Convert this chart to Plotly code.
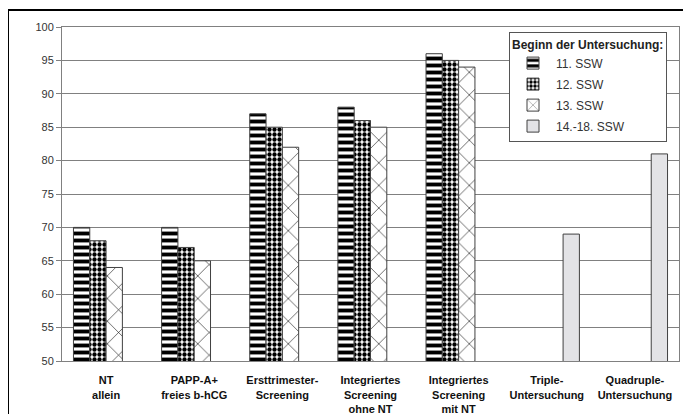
import plotly.graph_objects as go

categories = [
    "NT<br>allein",
    "PAPP-A+<br>freies b-hCG",
    "Ersttrimester-<br>Screening",
    "Integriertes<br>Screening<br>ohne NT",
    "Integriertes<br>Screening<br>mit NT",
    "Triple-<br>Untersuchung",
    "Quadruple-<br>Untersuchung",
]
series_names = ["11. SSW", "12. SSW", "13. SSW", "14.-18. SSW"]
ssw11 = [70, 70, 87, 88, 96, None, None]
ssw12 = [68, 67, 85, 86, 95, None, None]
ssw13 = [64, 65, 82, 85, 94, None, None]
ssw14_18 = [None, None, None, None, None, 69, 81]
y_ticks = [50, 55, 60, 65, 70, 75, 80, 85, 90, 95, 100]

styles = [
    dict(color="white", pattern=dict(shape="-", fgcolor="black", bgcolor="white", size=7, solidity=0.55, fillmode="replace")),
    dict(color="white", pattern=dict(shape=".", fgcolor="black", bgcolor="white", size=5, solidity=0.6, fillmode="replace")),
    dict(color="white", pattern=dict(shape="x", fgcolor="black", bgcolor="white", size=16, solidity=0.07, fillmode="replace")),
    dict(color="#e3e3e6"),
]
values = [ssw11, ssw12, ssw13, ssw14_18]

fig = go.Figure()
for i, (name, vals, st) in enumerate(zip(series_names, values, styles)):
    fig.add_trace(go.Bar(
        x=categories, y=vals, name=name, legendgroup=name,
        marker=dict(**st, line=dict(color="#404040", width=1)),
    ))

L, T, W, H = 54, 19, 617, 334
fig.update_layout(
    width=691, height=414,
    margin=dict(l=L, r=691 - L - W, t=T, b=414 - T - H),
    paper_bgcolor="white", plot_bgcolor="white",
    barmode="group", bargap=0.26, bargroupgap=0,
    font=dict(family="Liberation Sans, Arial, sans-serif", size=11, color="#333"),
    showlegend=True,
    legend=dict(
        x=(501 - L) / W, xanchor="left", y=(T + H - 24) / H, yanchor="top",
        bgcolor="white", bordercolor="#555", borderwidth=1,
        title=dict(text="<b>Beginn der Untersuchung:</b>", font=dict(size=12, color="#222")),
        font=dict(size=12, color="#333"),
        traceorder="grouped", tracegroupgap=2, itemwidth=36,
        entrywidth=114, entrywidthmode="pixels",
    ),
    xaxis=dict(
        automargin=False,
        showline=True, linecolor="#808080", mirror=True,
        tickfont=dict(size=11, color="#111", family="Liberation Sans, Arial, sans-serif", weight="bold"),
        ticks="", ticklabelstandoff=9,
    ),
    yaxis=dict(
        automargin=False,
        range=[50, 100], tickvals=y_ticks, showgrid=True, gridcolor="#808080", gridwidth=1,
        showline=True, linecolor="#808080", mirror=True,
        ticks="outside", ticklen=5, tickcolor="#808080",
        tickfont=dict(size=11, color="#333"),
    ),
    shapes=[
        dict(type="line", xref="paper", yref="paper",
             x0=(0 - L) / W, x1=(0 - L) / W,
             y0=(T + H - 440) / H, y1=(T + H - 1) / H,
             line=dict(color="black", width=2), layer="below"),
        dict(type="line", xref="paper", yref="paper",
             x0=(-1 - L) / W, x1=(720 - L) / W,
             y0=(T + H - 2) / H, y1=(T + H - 2) / H,
             line=dict(color="black", width=2), layer="below"),
    ],
)

fig.write_html("out.html")
